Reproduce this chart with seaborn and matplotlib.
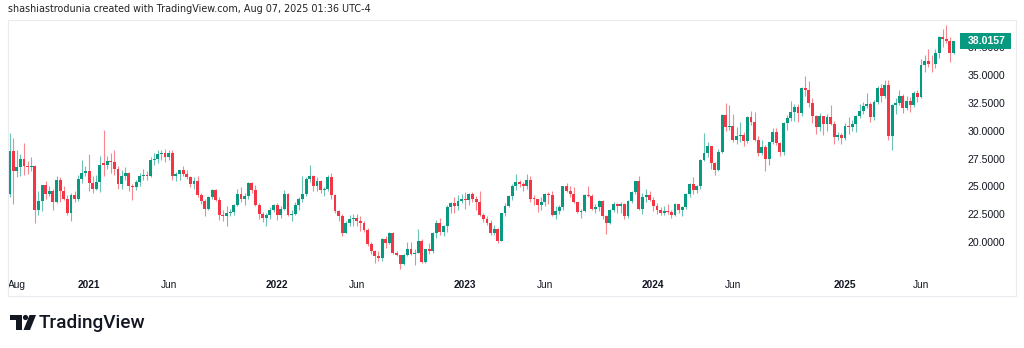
import matplotlib
matplotlib.use("Agg")
import matplotlib.pyplot as plt
import matplotlib.patches as mpatches
import matplotlib.transforms as mtransforms
import numpy as np
import pandas as pd
import seaborn as sns

# ---------------- data (weekly candles, Aug 2020 - Aug 2025) ----------------
opens = [
    24.3, 28.2, 26.4, 26.7, 27.5, 26.8, 26.7, 26.8, 22.9, 23.7,
    25.1, 24.3, 24.6, 23.6, 25.6, 24.6, 23.9, 22.6, 24.2, 23.9,
    25.7, 26.2, 26.4, 25.3, 24.8, 25.4, 27.1, 26.9, 27.3, 27.2,
    26.6, 25.2, 25.9, 26.2, 25.0, 24.9, 25.4, 25.9, 26.0, 25.9,
    27.4, 27.5, 27.9, 28.0, 27.6, 28.0, 25.9, 26.1, 26.5, 26.1,
    25.8, 25.2, 25.5, 24.2, 23.7, 23.0, 24.0, 24.7, 23.8, 22.4,
    22.3, 22.6, 22.7, 23.3, 24.3, 23.9, 24.1, 25.3, 24.7, 23.3,
    22.5, 22.2, 22.4, 22.9, 23.3, 22.4, 23.0, 24.3, 22.4, 22.5,
    23.3, 23.9, 24.3, 25.7, 25.9, 25.0, 25.5, 24.7, 24.8, 25.8,
    24.2, 22.8, 22.3, 20.8, 21.7, 22.1, 22.2, 21.9, 21.7, 21.1,
    19.8, 19.2, 18.7, 18.6, 20.3, 19.9, 20.8, 19.0, 18.8, 18.0,
    18.8, 19.4, 18.9, 19.0, 20.1, 18.2, 19.4, 19.2, 20.8, 21.7,
    20.9, 21.4, 23.1, 23.5, 23.2, 23.7, 23.9, 23.8, 24.3, 23.9,
    23.6, 22.4, 22.1, 21.7, 20.8, 21.2, 20.1, 22.6, 23.2, 24.1,
    25.0, 25.4, 25.2, 25.0, 25.6, 23.9, 23.85, 23.3, 23.6, 24.3,
    24.2, 22.4, 22.8, 23.1, 25.0, 24.6, 24.3, 23.6, 22.7, 22.8,
    24.2, 24.1, 23.0, 23.1, 23.7, 22.3, 21.7, 22.9, 23.4, 23.2,
    23.4, 22.3, 23.7, 24.5, 25.5, 23.0, 24.0, 24.2, 23.8, 23.2,
    22.9, 22.6, 22.8, 22.7, 22.4, 23.4, 22.9, 23.1, 24.3, 25.2,
    24.7, 25.0, 27.4, 28.0, 28.6, 27.1, 26.5, 28.1, 31.4, 30.3,
    30.4, 29.2, 29.5, 29.6, 29.1, 31.2, 30.8, 29.2, 28.0, 28.5,
    27.5, 29.0, 29.9, 28.9, 28.1, 30.7, 31.1, 31.7, 32.1, 31.6,
    33.8, 33.7, 32.5, 31.3, 30.3, 31.3, 30.6, 31.2, 30.6, 29.4,
    29.6, 29.3, 30.4, 30.3, 30.6, 31.3, 31.8, 32.2, 32.4, 31.2,
    32.6, 33.8, 33.1, 34.1, 29.5, 32.3, 32.5, 33.1, 32.0, 32.7,
    32.3, 33.4, 33.0, 35.9, 36.3, 36.0, 35.95, 37.0, 38.4, 38.2,
    38.1, 37.0,
]
highs = [
    29.8, 29.3, 28.3, 27.9, 28.9, 27.3, 27.6, 26.9, 24.6, 25.1,
    25.5, 25.0, 24.8, 25.9, 25.8, 25.0, 24.2, 24.4, 24.6, 26.0,
    27.4, 26.8, 27.9, 25.9, 26.0, 27.7, 30.1, 27.7, 28.0, 28.3,
    26.8, 26.5, 26.7, 26.3, 25.2, 25.6, 26.2, 26.6, 26.4, 27.6,
    28.0, 28.3, 28.3, 28.4, 28.3, 28.3, 26.3, 26.5, 26.8, 26.5,
    25.9, 25.8, 25.9, 24.4, 23.9, 24.1, 24.8, 24.8, 24.0, 22.9,
    23.2, 23.0, 23.4, 24.8, 24.9, 24.4, 25.4, 25.4, 25.1, 23.5,
    22.7, 22.6, 23.1, 23.4, 23.5, 23.2, 24.7, 24.4, 22.9, 23.6,
    24.0, 25.9, 25.8, 26.9, 26.0, 25.8, 25.6, 24.9, 26.0, 26.2,
    24.3, 22.9, 22.5, 21.9, 22.4, 22.5, 22.5, 22.3, 21.9, 21.3,
    20.0, 19.3, 19.2, 20.4, 20.5, 20.9, 20.9, 19.2, 18.8, 18.9,
    20.0, 20.0, 19.4, 21.2, 20.3, 19.4, 19.9, 20.9, 22.0, 22.2,
    21.5, 23.3, 23.6, 24.0, 24.2, 24.3, 24.5, 24.4, 24.5, 24.1,
    24.6, 22.6, 22.3, 22.0, 21.5, 21.3, 22.6, 23.5, 24.2, 25.2,
    26.1, 25.6, 25.4, 26.1, 25.9, 24.2, 23.9, 24.0, 24.4, 24.5,
    24.6, 23.2, 23.3, 25.0, 25.3, 25.0, 24.9, 23.6, 23.0, 24.3,
    25.0, 24.3, 23.4, 23.8, 23.8, 22.4, 23.0, 23.6, 23.5, 23.6,
    23.5, 23.8, 24.6, 25.5, 25.9, 24.4, 24.8, 24.6, 24.0, 23.5,
    23.1, 23.2, 23.4, 22.9, 23.5, 23.4, 23.2, 24.4, 25.3, 25.8,
    25.1, 27.5, 29.8, 29.0, 28.6, 27.2, 28.4, 31.5, 32.5, 32.3,
    31.5, 30.3, 30.8, 29.9, 31.3, 31.8, 31.7, 29.5, 29.2, 28.7,
    29.0, 30.2, 30.2, 29.0, 30.8, 31.4, 32.7, 32.4, 32.4, 33.9,
    34.9, 34.5, 32.9, 31.4, 31.6, 31.3, 31.5, 32.3, 30.9, 29.9,
    29.8, 30.7, 31.2, 31.0, 31.4, 32.4, 32.6, 33.4, 32.6, 32.8,
    34.0, 34.2, 34.6, 34.6, 32.4, 32.9, 33.7, 33.3, 33.1, 33.0,
    33.6, 33.7, 36.4, 36.8, 37.3, 36.8, 37.3, 38.5, 39.1, 39.5,
    38.4, 38.1,
]
lows = [
    24.0, 23.4, 25.8, 25.9, 26.0, 26.1, 26.4, 21.7, 22.4, 22.8,
    23.9, 24.1, 22.9, 23.5, 23.6, 23.8, 22.4, 21.9, 23.6, 23.7,
    25.3, 25.9, 24.6, 24.4, 24.7, 24.5, 25.9, 26.6, 26.2, 26.0,
    24.8, 24.8, 25.6, 24.6, 23.8, 24.7, 25.0, 25.6, 25.6, 25.8,
    26.9, 27.1, 27.4, 27.2, 27.4, 25.6, 25.5, 25.6, 25.9, 25.7,
    24.9, 24.8, 24.0, 23.4, 22.3, 22.9, 23.9, 23.7, 22.0, 21.9,
    21.4, 22.3, 22.4, 23.2, 23.6, 23.3, 23.9, 24.4, 23.2, 22.1,
    21.8, 21.4, 22.1, 22.7, 22.0, 22.2, 22.9, 22.3, 21.9, 22.4,
    22.9, 23.6, 24.1, 25.4, 24.6, 24.6, 24.4, 24.1, 24.6, 23.9,
    22.6, 21.9, 20.5, 20.8, 21.4, 21.4, 21.4, 21.0, 20.9, 19.6,
    18.9, 18.1, 18.3, 18.3, 19.5, 19.8, 18.9, 18.7, 17.6, 17.9,
    18.7, 18.8, 17.9, 19.0, 18.1, 18.1, 18.9, 19.0, 20.4, 20.6,
    20.5, 20.9, 22.6, 22.6, 22.9, 23.5, 23.0, 23.3, 23.6, 22.9,
    22.3, 21.8, 21.5, 20.6, 20.6, 19.9, 20.1, 22.3, 23.1, 23.8,
    24.7, 24.9, 24.6, 24.8, 23.6, 23.3, 22.7, 22.9, 23.2, 23.4,
    22.3, 22.1, 22.5, 22.9, 24.5, 24.0, 23.5, 22.6, 22.2, 22.7,
    24.0, 22.9, 22.6, 22.8, 22.1, 20.7, 21.6, 22.7, 22.6, 22.6,
    22.1, 22.2, 23.5, 24.3, 22.9, 22.5, 23.6, 23.7, 22.8, 22.5,
    22.4, 22.4, 22.5, 22.2, 22.3, 22.6, 22.3, 23.0, 24.0, 24.3,
    24.4, 24.8, 27.3, 27.6, 26.6, 26.0, 26.4, 28.0, 30.0, 30.1,
    29.0, 28.8, 29.0, 28.6, 28.9, 30.5, 29.1, 27.7, 27.8, 26.4,
    26.9, 28.8, 28.7, 27.7, 27.8, 30.1, 30.9, 30.9, 30.8, 31.3,
    33.1, 32.1, 30.7, 29.7, 30.0, 29.6, 30.0, 30.5, 28.8, 29.2,
    28.8, 29.2, 29.7, 30.0, 29.9, 31.1, 31.5, 32.0, 30.8, 31.0,
    32.4, 32.6, 32.9, 29.2, 28.3, 31.5, 32.3, 31.6, 31.9, 31.7,
    32.1, 32.6, 32.9, 35.3, 35.7, 35.3, 35.6, 36.5, 37.5, 37.9,
    36.2, 36.9,
]
closes = [
    28.2, 26.4, 26.7, 27.5, 26.8, 26.7, 26.8, 22.9, 23.7, 25.1,
    24.3, 24.6, 23.6, 25.6, 24.6, 23.9, 22.6, 24.2, 23.9, 25.7,
    26.2, 26.4, 25.3, 24.8, 25.4, 26.9, 26.9, 27.3, 27.2, 26.6,
    25.2, 25.9, 26.2, 25.0, 24.9, 25.4, 25.9, 26.0, 25.9, 27.4,
    27.5, 27.9, 28.0, 27.6, 28.0, 25.9, 26.1, 26.5, 26.1, 25.8,
    25.2, 25.5, 24.2, 23.7, 23.0, 24.0, 24.7, 23.8, 22.4, 22.3,
    22.6, 22.7, 23.3, 24.3, 23.9, 24.1, 25.3, 24.7, 23.3, 22.5,
    22.2, 22.4, 22.9, 23.3, 22.4, 23.0, 24.3, 22.4, 22.5, 23.3,
    23.9, 24.3, 25.7, 25.9, 25.0, 25.5, 24.7, 24.8, 25.8, 24.2,
    22.8, 22.3, 20.8, 21.7, 22.1, 22.2, 21.9, 21.7, 21.1, 19.8,
    19.2, 18.7, 18.6, 20.3, 19.9, 20.8, 19.0, 18.8, 18.0, 18.8,
    19.4, 18.9, 19.0, 20.1, 18.2, 19.4, 19.2, 20.8, 21.7, 20.9,
    21.4, 23.1, 23.5, 23.2, 23.7, 23.9, 23.8, 24.3, 23.9, 23.6,
    22.4, 22.1, 21.7, 20.8, 21.2, 20.1, 22.6, 23.2, 24.1, 25.0,
    25.4, 25.2, 25.0, 25.6, 23.9, 23.85, 23.3, 23.6, 24.3, 24.2,
    22.4, 22.8, 23.1, 25.0, 24.6, 24.3, 23.6, 22.7, 22.8, 24.2,
    24.1, 23.0, 23.1, 23.7, 22.3, 21.7, 22.9, 23.4, 23.2, 23.4,
    22.3, 23.7, 24.5, 25.5, 23.0, 24.0, 24.2, 23.8, 23.2, 22.9,
    22.6, 22.8, 22.7, 22.4, 23.4, 22.9, 23.1, 24.3, 25.2, 24.7,
    25.0, 27.4, 28.0, 28.6, 27.1, 26.5, 28.1, 31.4, 30.3, 30.4,
    29.2, 29.5, 29.6, 29.1, 31.2, 30.8, 29.2, 28.0, 28.5, 27.5,
    29.0, 29.9, 28.9, 28.1, 30.7, 31.1, 31.7, 32.1, 31.6, 33.8,
    33.7, 32.5, 31.3, 30.3, 31.3, 30.6, 31.2, 30.6, 29.4, 29.6,
    29.3, 30.4, 30.3, 30.6, 31.3, 31.8, 32.2, 32.4, 31.2, 32.6,
    33.8, 33.1, 34.1, 29.5, 32.3, 32.5, 33.1, 32.0, 32.7, 32.3,
    33.4, 33.0, 35.9, 36.3, 36.0, 35.95, 37.0, 38.4, 38.2, 38.1,
    37.0, 38.0157,
]
time_tick_pos = [2, 22, 44, 74, 96, 126, 148, 178, 200, 231, 252]
time_tick_labels = ["Aug", "2021", "Jun", "2022", "Jun", "2023",
                    "Jun", "2024", "Jun", "2025", "Jun"]
price_ticks = [20.0, 22.5, 25.0, 27.5, 30.0, 32.5, 35.0, 37.5]
last_price = 38.0157
header_text = "shashiastrodunia created with TradingView.com, Aug 07, 2025 01:36 UTC-4"
brand_text = "TradingView"

# ---------------- styling ----------------
sns.set_theme(style="white")
plt.rcParams['font.family'] = ['Liberation Sans', 'DejaVu Sans']

UP, DOWN = "#089981", "#F23645"
TXT = "#131722"
W, H = 1024, 348
fig = plt.figure(figsize=(W / 100, H / 100), dpi=100)
fig.patch.set_facecolor("white")

PL, PR, PT, PB = 8, 958, 20, 275          # plot area in pixels
ax = fig.add_axes([PL / W, 1 - PB / H, (PR - PL) / W, (PB - PT) / H])
ax.set_facecolor("white")

df = pd.DataFrame({"open": opens, "high": highs, "low": lows, "close": closes})
df["idx"] = np.arange(len(df))
df["up"] = df["close"] >= df["open"]
colors = np.where(df["up"], UP, DOWN)

# wicks
ax.vlines(df["idx"], df["low"], df["high"], colors=colors, linewidth=0.8, alpha=0.6, zorder=2)
# bodies
body_bottom = np.minimum(df["open"], df["close"])
body_height = np.maximum((df["close"] - df["open"]).abs(), 0.08)
ax.bar(df["idx"], body_height, bottom=body_bottom, width=0.8, color=colors,
       linewidth=0, zorder=3)

ax.set_xlim(-0.415, 262.23)
ax.set_ylim(17.035, 39.946)
for s in ax.spines.values():
    s.set_visible(False)
ax.grid(False)

ax.yaxis.tick_right()
ax.set_yticks(price_ticks)
ax.set_yticklabels([f"{v:.4f}" for v in price_ticks])
ax.tick_params(axis="y", length=0, pad=7.2, labelsize=7.6, labelcolor=TXT)

ax.set_xticks(time_tick_pos)
ax.set_xticklabels(time_tick_labels)
ax.tick_params(axis="x", length=0, pad=3.5, labelsize=7.3, labelcolor=TXT)
for lbl in ax.get_xticklabels():
    if lbl.get_text().isdigit():
        lbl.set_fontweight("bold")

# last price tag (covers the 37.5000 label as in the reference)
trans = mtransforms.blended_transform_factory(ax.transAxes, ax.transData)
x0 = (960 - PL) / (PR - PL)
x1 = (1011 - PL) / (PR - PL)
hh = 8.0 / 11.13
ax.add_patch(mpatches.Rectangle((x0, last_price - hh), x1 - x0, 2 * hh, transform=trans,
                                facecolor=UP, edgecolor="none", clip_on=False, zorder=10))
ax.text((968 - PL) / (PR - PL), last_price, f"{last_price:.4f}", transform=trans,
        color="white", fontsize=7.6, fontweight="bold", va="center", ha="left",
        zorder=11, clip_on=False)

# pixel -> figure transform for decorations
px = mtransforms.Affine2D().scale(1 / W, -1 / H).translate(0, 1) + fig.transFigure

# chart frame
fig.add_artist(mpatches.Rectangle((8, 20), 1008, 276, transform=px, fill=False,
                                  edgecolor="#e9ebf0", linewidth=0.8))

# header
fig.text(8 / W, 1 - 9.5 / H, header_text, fontsize=6.9, family="DejaVu Sans",
         color="#222222", va="center", ha="left")

# TradingView logo
fig.add_artist(mpatches.Polygon([(10, 315), (22, 315), (22, 330), (16, 330), (16, 320), (10, 320)],
                                closed=True, transform=px, facecolor=TXT, edgecolor="none"))
fig.add_artist(mpatches.Circle((25.5, 317.5), 2.6, transform=px, facecolor=TXT, edgecolor="none"))
fig.add_artist(mpatches.Polygon([(29.5, 315), (36, 315), (30, 330), (23.5, 330)],
                                closed=True, transform=px, facecolor=TXT, edgecolor="none"))
fig.text(39 / W, 1 - 322.5 / H, brand_text, fontsize=13.7, family="Roboto",
         fontweight="medium", color=TXT, va="center", ha="left")

fig.savefig("out.png", dpi=100, facecolor="white")
